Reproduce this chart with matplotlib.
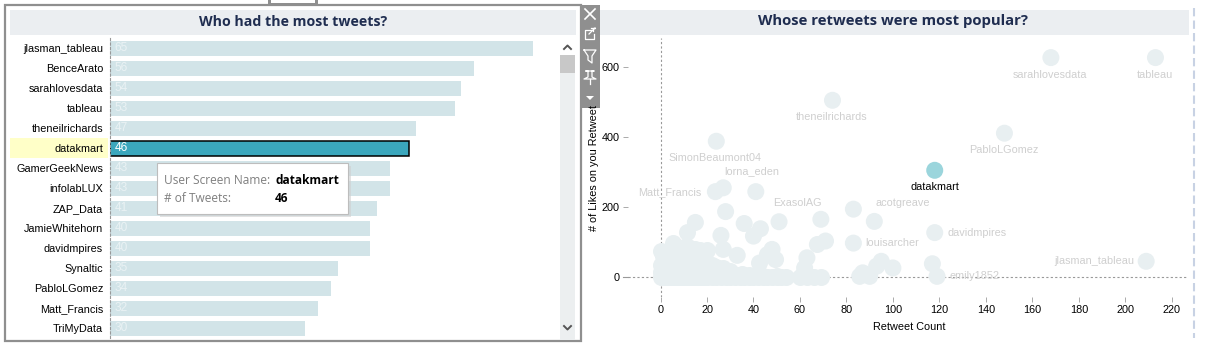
import matplotlib
matplotlib.use("Agg")
import matplotlib.pyplot as plt
from matplotlib.patches import Rectangle

W, H = 1207, 361

users = ["jlasman_tableau", "BenceArato", "sarahlovesdata", "tableau", "theneilrichards",
         "datakmart", "GamerGeekNews", "infolabLUX", "ZAP_Data", "JamieWhitehorn",
         "davidmpires", "Synaltic", "PabloLGomez", "Matt_Francis", "TriMyData"]
tweets = [65, 56, 54, 53, 47, 46, 43, 43, 41, 40, 40, 35, 34, 32, 30]
selected = "datakmart"

# labelled / clearly separate points
rt_count = [213, 168, 74, 148, 24, 118, 23.6, 27, 41, 28, 51, 36, 43, 40, 69, 83, 92, 118, 83, 71,
            67.5, 15, 11.6, 26, 27, 33, 48, 46, 49.5, 42.6, 63, 62, 95, 93, 100, 117, 119, 209, 85.7, 87, 90]
rt_likes = [627, 627, 505, 411, 388, 305, 244, 255, 244, 187, 158, 153, 138, 117, 165, 194, 159, 127, 97, 103,
            93, 156, 127, 119, 79, 62, 79, 64, 50, 40, 55, 26, 45, 31, 26, 38, 2, 45, 2, 12, 2]
# the crowded blob near the origin
blob_count = [0, 1, 2, 3, 4, 5, 6, 7, 8, 9, 10, 11, 12, 13, 14, 15, 16, 17, 18, 19, 20, 22, 24, 26, 28, 30,
              32, 34, 36, 38, 40, 42, 44, 46, 48, 50, 52, 54, 60, 63, 66, 69,
              0, 2, 4, 6, 8, 10, 12, 14, 16, 18, 20, 22, 25, 30, 35,
              0, 3, 5, 7, 9, 11, 13, 15, 17, 19, 21, 1, 6, 8, 10, 14, 16, 18, 4, 8, 12, 20,
              0, 5.5, 3, 7, 10, 13, 15, 17, 19, 23, 26, 29, 33, 38, 44, 50,
              2, 5, 9, 11, 13, 16, 18, 6, 9, 12, 15, 3, 7, 11, 14, 17, 20, 22, 24, 27, 30]
blob_likes = [0, 0, 0, 0, 0, 0, 0, 0, 0, 0, 0, 0, 0, 0, 0, 0, 0, 0, 0, 0, 0, 0, 0, 0, 0, 0,
              0, 0, 0, 0, 0, 0, 0, 0, 0, 0, 0, 0, 0, 0, 0, 0,
              15, 18, 20, 22, 20, 22, 25, 20, 22, 18, 20, 15, 12, 10, 8,
              35, 38, 40, 42, 45, 40, 45, 42, 40, 38, 30, 60, 65, 60, 62, 65, 60, 55, 78, 82, 85, 78,
              74, 98, 62, 78, 85, 80, 79, 78, 70, 22, 12, 8, 6, 5, 4, 3,
              50, 52, 72, 70, 72, 70, 66, 55, 50, 52, 50, 28, 30, 30, 32, 30, 28, 35, 30, 25, 18]

label_names = ["tableau", "sarahlovesdata", "theneilrichards", "PabloLGomez", "SimonBeaumont04", "datakmart",
               "Matt_Francis", "lorna_eden", "ExasolAG", "acotgreave", "davidmpires", "louisarcher",
               "jlasman_tableau", "emily1852"]
label_x = [213, 168, 74, 148, 24, 118, 23.6, 27, 51, 92, 118, 83, 209, 119]
label_y = [627, 627, 505, 411, 388, 305, 244, 255, 158, 159, 127, 97, 45, 2]
label_dx = [-1, -1, -1, -1, -1, 0, -14, 28, 18, 28, 13, 12, -12, 12]
label_dy = [-17, -17, -17, -17, -17, -17, 0, 17, 19, 18, 0, 0, 0, 0]
label_ha = ["center"] * 6 + ["right", "center", "center", "center", "left", "left", "right", "left"]

x_ticks = list(range(0, 221, 20))
y_ticks = [0, 200, 400, 600]

LABEL_FONT = "Liberation Sans"
TITLE_FONT = "Open Sans"
NAVY = "#1f2d50"
BAR = "#d2e4e8"
BAR_SEL = "#3ba7bd"
DOT = "#e8eff1"
DOT_SEL = "#9bd5dc"
GREY_TXT = "#cfcfcf"


def axes_px(fig, left, top, right, bottom, **kw):
    return fig.add_axes([left / W, 1 - bottom / H, (right - left) / W, (bottom - top) / H], **kw)


fig = plt.figure(figsize=(W / 100, H / 100), dpi=100)

# page furniture, in pixels
bg = axes_px(fig, 0, 0, W, H, zorder=0)
bg.set_xlim(0, W)
bg.set_ylim(H, 0)
bg.axis("off")
bg.add_patch(Rectangle((4.5, 5), 576, 336, fc="white", ec="#8f8f8f", lw=1.6))
bg.add_patch(Rectangle((268, 0), 50, 5, fc="#8f8f8f", ec="none"))
bg.add_patch(Rectangle((271, 0), 44, 3, fc="white", ec="none"))
bg.add_patch(Rectangle((10, 10), 566, 25, fc="#ebeef1", ec="none"))
bg.add_patch(Rectangle((600, 10), 589, 25, fc="#ebeef1", ec="none"))
bg.add_patch(Rectangle((10, 138), 98, 20, fc="#ffffc8", ec="none"))
bg.add_patch(Rectangle((560, 38), 15, 302, fc="#eceff0", ec="none"))
bg.add_patch(Rectangle((560, 38), 15, 17, fc="white", ec="none"))
bg.add_patch(Rectangle((560, 55), 15, 18, fc="#c8c8c8", ec="none"))
bg.plot([564, 567.5, 571], [49, 45.5, 49], color="#555555", lw=1.4)
bg.plot([564, 567.5, 571], [326, 329.5, 326], color="#555555", lw=1.4)
bg.plot([1194, 1194], [8, 338], color="#c8d2e4", lw=1.5, ls=(0, (4, 2)))
bg.text(293, 21.5, "Who had the most tweets?", family=TITLE_FONT, weight="bold", fontsize=10.2,
        color=NAVY, ha="center", va="center")
bg.text(893, 21.5, "Whose retweets were most popular?", family=TITLE_FONT, weight="bold", fontsize=10.7,
        color=NAVY, ha="center", va="center")

# bars
ax = axes_px(fig, 110, 38, 556, 338, zorder=1)
ax.patch.set_alpha(0)
rows = list(range(len(users)))
colors = [BAR_SEL if u == selected else BAR for u in users]
edges = ["black" if u == selected else "none" for u in users]
ax.barh(rows, tweets, height=0.75, color=colors, edgecolor=edges, linewidth=1.1)
for r, t, u in zip(rows, tweets, users):
    ax.text(0.7, r, str(t), color="white" if u == selected else "#eaf2f4", fontsize=8.6,
            family=LABEL_FONT, va="center", ha="left")
ax.set_xlim(0, 446 / 6.5)
ax.set_ylim(14.5, -0.5)
ax.set_xticks([])
ax.set_yticks(rows, users, family=LABEL_FONT, fontsize=7.8, color="black")
ax.tick_params(axis="y", length=0, pad=5)
for s in ["top", "right", "bottom"]:
    ax.spines[s].set_visible(False)
ax.spines["left"].set_linestyle((0, (2, 2)))
ax.spines["left"].set_color("#999999")
ax.spines["left"].set_linewidth(0.8)

# scatter
sc = axes_px(fig, 628, 38, 1188, 297, zorder=1)
sc.patch.set_alpha(0)
sc.set_xlim(-14, 227)
sc.set_ylim(-57, 683)
size = (17 * 0.72) ** 2
sc.axhline(0, color="#999999", lw=0.8, ls=(0, (2, 2)), zorder=1)
sc.plot([-16, -14], [0, 0], color="#999999", lw=0.8, clip_on=False)
sc.axvline(0, color="#999999", lw=0.8, ls=(0, (2, 2)), zorder=1)
sc.scatter(blob_count, blob_likes, s=size, color=DOT, linewidths=0, zorder=2)
sc.scatter(rt_count, rt_likes, s=size, color=[DOT_SEL if (a, b) == (118, 305) else DOT
                                                for a, b in zip(rt_count, rt_likes)], linewidths=0, zorder=2)
for n, x, y, dx, dy, ha in zip(label_names, label_x, label_y, label_dx, label_dy, label_ha):
    is_sel = n == selected
    sc.annotate(n, (x, y), xytext=(dx, dy), textcoords="offset pixels", ha=ha, va="center",
                family=LABEL_FONT, fontsize=7.8, color="black" if is_sel else GREY_TXT, zorder=3)
sc.set_xticks(x_ticks)
sc.set_yticks(y_ticks)
sc.tick_params(axis="both", length=3.6, width=0.7, color="#aaaaaa", labelsize=7.8, pad=2.5, labelcolor="black")
for t in sc.get_xticklabels() + sc.get_yticklabels():
    t.set_family(LABEL_FONT)
for s in sc.spines.values():
    s.set_visible(False)
sc.set_xlabel("Retweet Count", family=LABEL_FONT, fontsize=7.8)
sc.xaxis.set_label_coords((909 - 628) / 560, -0.096)

# tooltip, toolbar and rotated axis title on top of everything
top = axes_px(fig, 0, 0, W, H, zorder=5)
top.set_xlim(0, W)
top.set_ylim(H, 0)
top.axis("off")
top.patch.set_alpha(0)
top.text(594, 168, "# of Likes on you Retweet", rotation=90, family=LABEL_FONT, fontsize=7.8,
         ha="center", va="center", color="black")
top.add_patch(Rectangle((580, 5), 20, 103, fc="#8f8f8f", ec="none"))
top.plot([585, 595], [9, 19], color="white", lw=1.2)
top.plot([585, 595], [19, 9], color="white", lw=1.2)
top.plot([591, 585, 585, 594, 594], [30, 30, 39, 39, 34], color="white", lw=0.9)
top.plot([589, 595], [34, 28], color="white", lw=0.9)
top.plot([591, 595, 593, 593], [28, 28, 28, 31], color="white", lw=0.9)
top.plot([584, 596, 592, 592, 588, 588, 584], [50, 50, 56, 63, 60, 56, 50], color="white", lw=0.9)
top.plot([586, 594, 592, 592, 596, 584, 588, 588, 586], [71, 71, 71, 77, 79, 79, 77, 71, 71], color="white", lw=0.9)
top.plot([590, 590], [79, 84], color="white", lw=0.9)
top.fill([586, 594, 590], [96, 96, 100], color="white", lw=0)

top.add_patch(Rectangle((160, 166), 191, 51, fc="#cfcfcf", ec="none", alpha=0.6))
top.add_patch(Rectangle((157, 163), 191, 51, fc="white", ec="#bdbdbd", lw=0.8))
top.text(164, 180.5, "User Screen Name:", family="Open Sans", fontsize=8.6, color="#7f7f7f", va="center")
top.text(275, 180.5, "datakmart", family="Open Sans", weight="bold", fontsize=8.6, color="black", va="center")
top.text(164, 198.5, "# of Tweets:", family="Open Sans", fontsize=8.6, color="#7f7f7f", va="center")
top.text(275, 198.5, "46", family="Open Sans", weight="bold", fontsize=8.6, color="black", va="center")

fig.savefig("out.png", dpi=100)
